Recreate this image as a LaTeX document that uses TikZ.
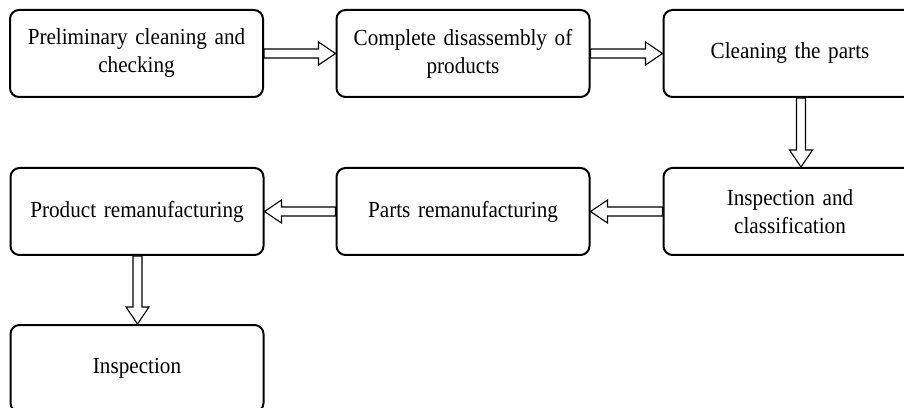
\documentclass[tikz,border=0pt]{standalone}
\usepackage{fontspec}
\setmainfont{Liberation Serif}[FakeStretch=0.92, WordSpace=0.75]
\usetikzlibrary{calc}
\tikzset{
  stepbox/.style={draw=black, line width=2pt, rounded corners=9pt, minimum width=253pt, minimum height=87pt,
    align=center, text width=240pt, font=\fontsize{23}{28}\selectfont, inner sep=0pt},
  arr/.style={draw=black, line width=1.1pt, fill=white, line join=miter}
}
\newcommand\rarrow[2]{\draw[arr] let \p1=(#1.east), \p2=(#2.west) in
  (\x1,\y1+4.5pt) -- (\x2-17pt,\y1+4.5pt) -- (\x2-17pt,\y1+11.5pt) -- (\x2,\y1) -- (\x2-17pt,\y1-11.5pt) -- (\x2-17pt,\y1-4.5pt) -- (\x1,\y1-4.5pt) -- cycle;}
\newcommand\larrow[2]{\draw[arr] let \p1=(#1.west), \p2=(#2.east) in
  (\x1,\y1+4.5pt) -- (\x2+17pt,\y1+4.5pt) -- (\x2+17pt,\y1+11.5pt) -- (\x2,\y1) -- (\x2+17pt,\y1-11.5pt) -- (\x2+17pt,\y1-4.5pt) -- (\x1,\y1-4.5pt) -- cycle;}
% #1 from node, #2 to node, #3 x shift
\newcommand\darrow[3]{\draw[arr] let \p1=($(#1.south)+(#3,0)$), \p2=(#2.north) in
  (\x1-4.5pt,\y1) -- (\x1-4.5pt,\y2+17pt) -- (\x1-11.5pt,\y2+17pt) -- (\x1,\y2) -- (\x1+11.5pt,\y2+17pt) -- (\x1+4.5pt,\y2+17pt) -- (\x1+4.5pt,\y1) -- cycle;}
\begin{document}
\begin{tikzpicture}[x=1pt,y=1pt]
\clip (0,0) rectangle (904,407);
\fill[white] (0,0) rectangle (904,407);
\node[stepbox] (b1) at (136.5,353.5) {Preliminary cleaning and\\checking};
\node[stepbox] (b2) at (463,353.5) {Complete disassembly of\\products};
\node[stepbox] (b3) at (790,353.5) {Cleaning the parts};
\node[stepbox] (b6) at (790,195.5) {Inspection and\\classification};
\node[stepbox] (b5) at (463,195.5) {Parts remanufacturing};
\node[stepbox] (b4) at (137,195.5) {Product remanufacturing};
\node[stepbox] (b7) at (137,38.5) {Inspection};
\rarrow{b1}{b2}
\rarrow{b2}{b3}
\darrow{b3}{b6}{11pt}
\larrow{b6}{b5}
\larrow{b5}{b4}
\darrow{b4}{b7}{0.5pt}
\end{tikzpicture}
\end{document}
